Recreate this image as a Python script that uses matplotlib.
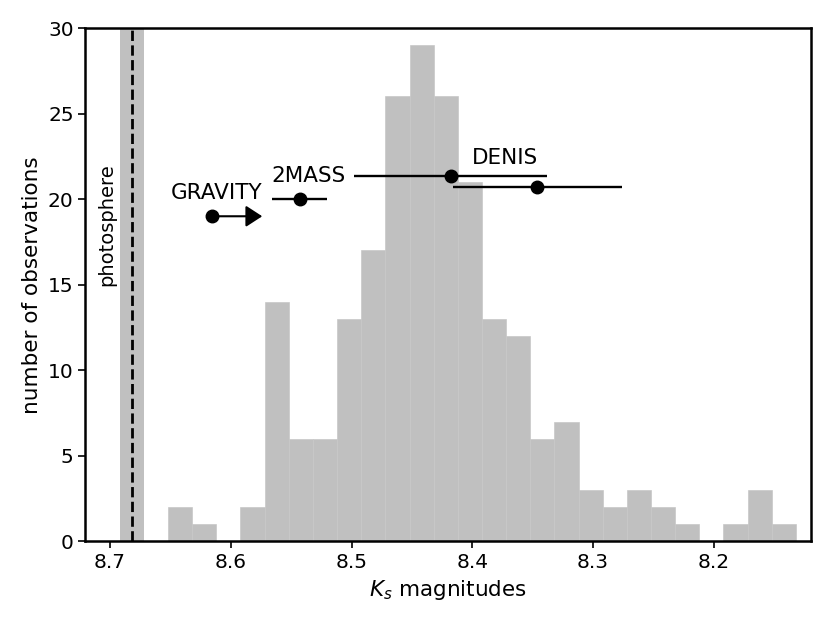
import numpy as np
import matplotlib
matplotlib.use('Agg')
import matplotlib.pyplot as plt

# histogram of Ks magnitudes (bin edges go from bright to faint)
bin_lo = 8.132
bin_width = 0.02
counts = [1, 3, 1, 0, 1, 2, 3, 2, 3, 7, 6, 12, 13, 21, 26, 29, 26, 17, 13, 6, 6, 14, 2, 0, 1, 2]

photosphere = 8.682
photosphere_err = 0.0098

# literature points
gravity_mag, gravity_y, gravity_len = 8.616, 19, 0.042
twomass_mag, twomass_y, twomass_err = 8.543, 20, 0.023
denis_mag = [8.418, 8.346]
denis_y = [21.35, 20.7]
denis_err = [0.080, 0.070]

edges = bin_lo + bin_width * np.arange(len(counts) + 1)
centers = 0.5 * (edges[1:] + edges[:-1])

fig, ax = plt.subplots(figsize=(8.3, 6.23), dpi=100)
fig.subplots_adjust(left=0.103, right=0.977, top=0.955, bottom=0.131)

ax.hist(centers, bins=edges, weights=counts, color='silver',
        edgecolor='#c8c8c8', linewidth=0.5)

ax.axvspan(photosphere - photosphere_err, photosphere + photosphere_err,
           color='silver', lw=0)
ax.axvline(photosphere, color='k', ls='--', lw=2)
ax.text(8.7025, 18.5, 'photosphere', rotation=90,
        ha='center', va='center', fontsize=14)

# GRAVITY: lower limit arrow
ax.plot(gravity_mag, gravity_y, 'ko', ms=9)
ax.annotate('', xy=(gravity_mag - gravity_len, gravity_y),
            xytext=(gravity_mag, gravity_y),
            arrowprops=dict(arrowstyle='-|>,head_length=1.0,head_width=0.65',
                            color='k', lw=1.5, shrinkA=0, shrinkB=0))
ax.text(8.612, 20.0, 'GRAVITY', ha='center', va='baseline', fontsize=15.5)

ax.errorbar(twomass_mag, twomass_y, xerr=twomass_err, fmt='ko', ms=9,
            elinewidth=1.7, capsize=0)
ax.text(8.536, 21.0, '2MASS', ha='center', va='baseline', fontsize=15.5)

ax.errorbar(denis_mag, denis_y, xerr=denis_err, fmt='ko', ms=9,
            elinewidth=1.7, capsize=0)
ax.text(8.373, 22.05, 'DENIS', ha='center', va='baseline', fontsize=15.5)

ax.set_xlim(8.7204, 8.1195)
ax.set_ylim(0, 30)
ax.set_xlabel('$K_s$ magnitudes', fontsize=15.5)
ax.set_ylabel('number of observations', fontsize=15.5)
ax.tick_params(labelsize=14.5, width=1.2, length=5)
for s in ax.spines.values():
    s.set_linewidth(1.8)

plt.savefig('out.png')
